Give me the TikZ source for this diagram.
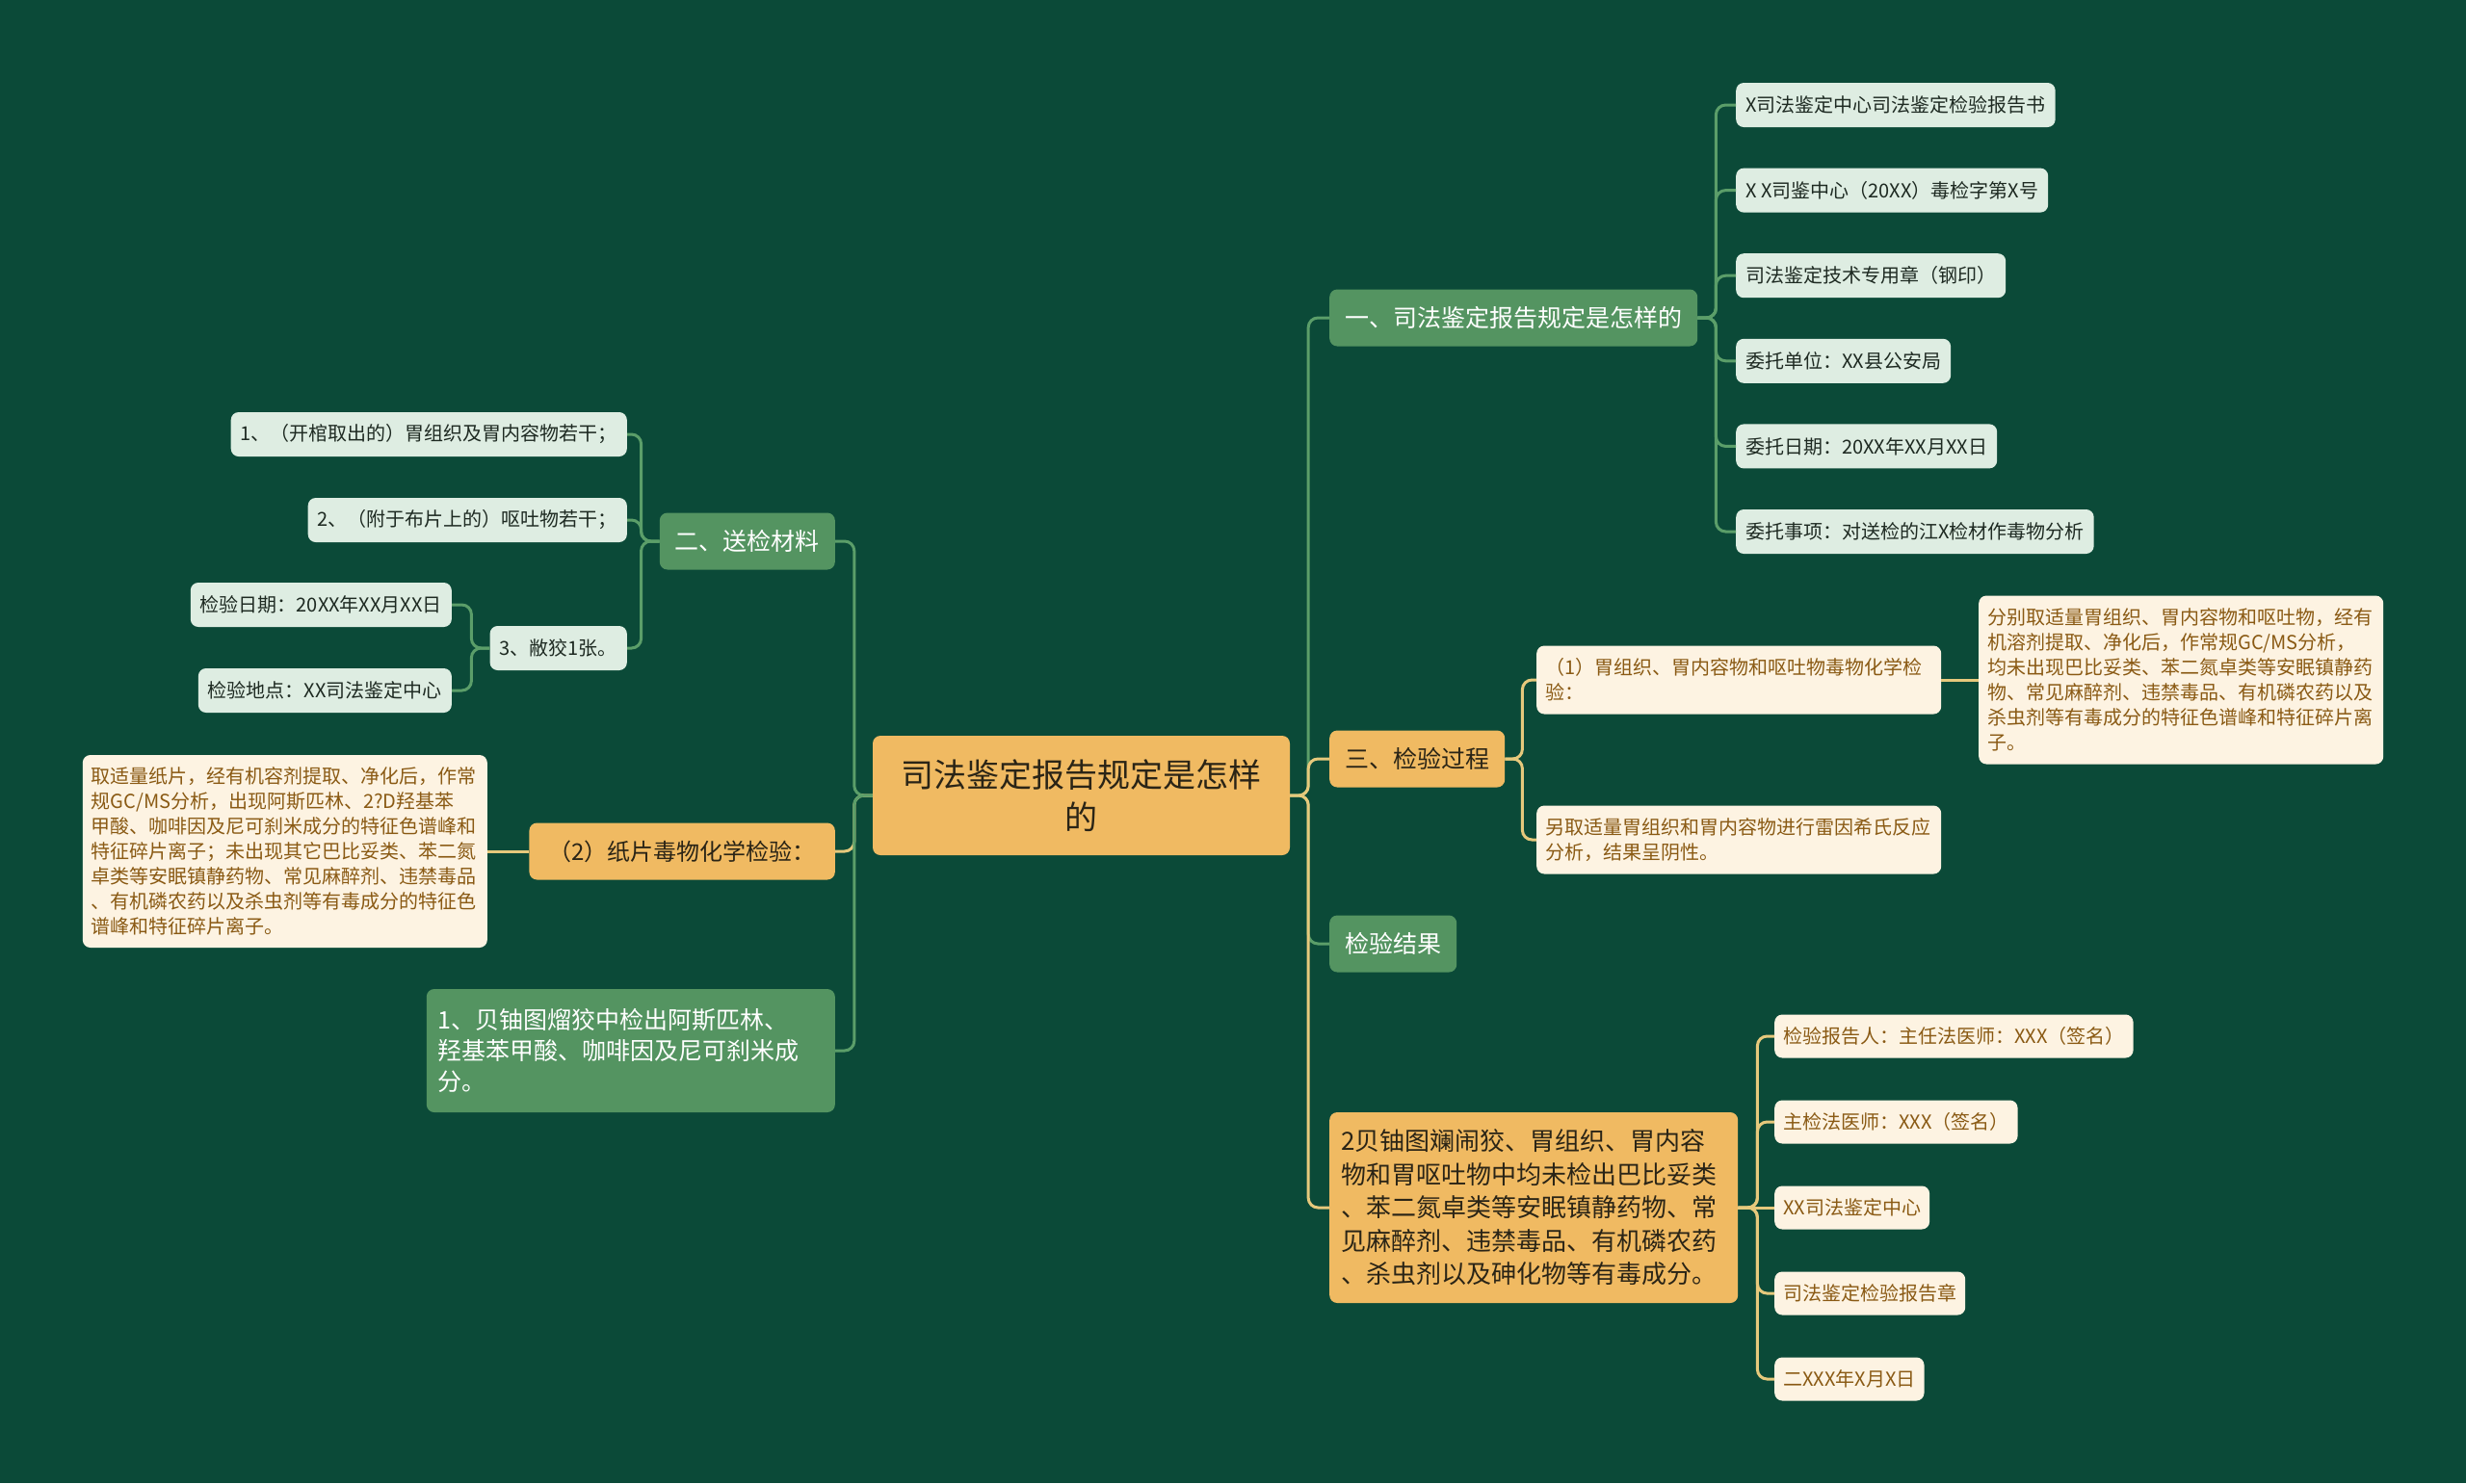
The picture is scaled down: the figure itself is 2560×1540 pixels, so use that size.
\documentclass[tikz,border=0pt]{standalone}
\usepackage{fontspec}
\setmainfont{Noto Sans CJK SC}
\definecolor{bgcol}{HTML}{0B4A38}
\definecolor{gfill}{HTML}{549461}
\definecolor{gline}{HTML}{5B9E69}
\definecolor{ofill}{HTML}{F0BA62}
\definecolor{oline}{HTML}{E6C97C}
\definecolor{lfill}{HTML}{DEEDE2}
\definecolor{ltext}{HTML}{1E2A22}
\definecolor{cfill}{HTML}{FDF3E2}
\definecolor{ctext}{HTML}{8A5A14}
\definecolor{dtext}{HTML}{2A2416}
\begin{document}
\begin{tikzpicture}[x=1pt,y=-1pt,
  box/.style={rounded corners=8pt,inner ysep=4pt},
  rootbox/.style={box,fill=ofill,text=dtext,font=\fontsize{34}{44}\selectfont,align=center,minimum width=433pt,minimum height=124pt},
  topicg/.style={box,fill=gfill,text=white,font=\fontsize{25}{32}\selectfont,inner xsep=16pt,minimum height=59pt},
  topico/.style={box,fill=ofill,text=dtext,font=\fontsize{25}{32}\selectfont,inner xsep=16pt,minimum height=59pt},
  leaf/.style={box,fill=lfill,text=ltext,font=\fontsize{20}{26}\selectfont,inner xsep=10pt,minimum height=46pt},
  cream/.style={box,fill=cfill,text=ctext,font=\fontsize{20}{26}\selectfont,inner xsep=9pt,minimum height=45pt,align=left},
  gconn/.style={draw=gline,line width=3pt,rounded corners=10pt},
  oconn/.style={draw=oline,line width=3pt,rounded corners=10pt}]
\fill[bgcol] (0,0) rectangle (2560,1540);
\useasboundingbox (0,0) rectangle (2560,1540);
% centre
\node[rootbox] (root) at (1122.5,826) {司法鉴定报告规定是怎样\\的};
% right side
\node[topicg,anchor=west] (r1) at (1380,330) {一、司法鉴定报告规定是怎样的};
\node[topico,anchor=west] (r2) at (1380,788) {三、检验过程};
\node[topicg,anchor=west] (r3) at (1380,980) {检验结果};
\node[topico,anchor=west,align=left,text width=400pt,inner xsep=12pt,font=\fontsize{26}{34.5}\selectfont,minimum height=198pt] (r4) at (1380,1254) {2贝铀图斓闹狡、胃组织、胃内容\\物和胃呕吐物中均未检出巴比妥类\\、苯二氮卓类等安眠镇静药物、常\\见麻醉剂、违禁毒品、有机磷农药\\、杀虫剂以及砷化物等有毒成分。};
\node[leaf,anchor=west] (r1a) at (1802,109) {X司法鉴定中心司法鉴定检验报告书};
\node[leaf,anchor=west] (r1b) at (1802,197.6) {X X司鉴中心（20XX）毒检字第X号};
\node[leaf,anchor=west] (r1c) at (1802,286.2) {司法鉴定技术专用章（钢印）};
\node[leaf,anchor=west] (r1d) at (1802,374.8) {委托单位：XX县公安局};
\node[leaf,anchor=west] (r1e) at (1802,463.4) {委托日期：20XX年XX月XX日};
\node[leaf,anchor=west] (r1f) at (1802,552) {委托事项：对送检的江X检材作毒物分析};
\node[cream,anchor=west,text width=402pt,minimum height=71pt] (r2a) at (1595,706) {（1）胃组织、胃内容物和呕吐物毒物化学检\\验：};
\node[cream,anchor=west,text width=402pt,minimum height=175pt] (r2a1) at (2054,706) {分别取适量胃组织、胃内容物和呕吐物，经有\\机溶剂提取、净化后，作常规GC/MS分析，\\均未出现巴比妥类、苯二氮卓类等安眠镇静药\\物、常见麻醉剂、违禁毒品、有机磷农药以及\\杀虫剂等有毒成分的特征色谱峰和特征碎片离\\子。};
\node[cream,anchor=west,text width=402pt,minimum height=71pt] (r2b) at (1595,872) {另取适量胃组织和胃内容物进行雷因希氏反应\\分析，结果呈阴性。};
\node[cream,anchor=west] (r4a) at (1842,1076) {检验报告人：主任法医师：XXX（签名）};
\node[cream,anchor=west] (r4b) at (1842,1165) {主检法医师：XXX（签名）};
\node[cream,anchor=west] (r4c) at (1842,1254) {XX司法鉴定中心};
\node[cream,anchor=west] (r4d) at (1842,1343) {司法鉴定检验报告章};
\node[cream,anchor=west] (r4e) at (1842,1432) {二XXX年X月X日};
% left side
\node[topicg,anchor=east] (l1) at (867,562) {二、送检材料};
\node[topico,anchor=east,inner xsep=20pt,font=\fontsize{24}{30}\selectfont] (l2) at (867,884) {（2）纸片毒物化学检验：};
\node[topicg,anchor=east,align=left,text width=400pt,inner xsep=12pt,minimum height=128pt] (l3) at (867,1091) {1、贝铀图熘狡中检出阿斯匹林、\\羟基苯甲酸、咖啡因及尼可刹米成\\分。};
\node[leaf,anchor=east] (l1a) at (651,451) {1、（开棺取出的）胃组织及胃内容物若干；};
\node[leaf,anchor=east] (l1b) at (651,540) {2、（附于布片上的）呕吐物若干；};
\node[leaf,anchor=east] (l1c) at (651,673) {3、敝狡1张。};
\node[leaf,anchor=east] (l1c1) at (469,628) {检验日期：20XX年XX月XX日};
\node[leaf,anchor=east] (l1c2) at (469,717) {检验地点：XX司法鉴定中心};
\node[cream,anchor=east,text width=402pt,minimum height=200pt] (l2a) at (506,884) {取适量纸片，经有机容剂提取、净化后，作常\\规GC/MS分析，出现阿斯匹林、2?D羟基苯\\甲酸、咖啡因及尼可刹米成分的特征色谱峰和\\特征碎片离子；未出现其它巴比妥类、苯二氮\\卓类等安眠镇静药物、常见麻醉剂、违禁毒品\\、有机磷农药以及杀虫剂等有毒成分的特征色\\谱峰和特征碎片离子。};
% connectors
\draw[gconn] (root.east) -- ++(19,0) |- (r1.west);
\draw[oconn] (root.east) -- ++(19,0) |- (r2.west);
\draw[gconn] (root.east) -- ++(19,0) |- (r3.west);
\draw[oconn] (root.east) -- ++(19,0) |- (r4.west);
\draw[gconn] (root.west) -- ++(-19,0) |- (l1.east);
\draw[oconn] (root.west) -- ++(-19,0) |- (l2.east);
\draw[gconn] (root.west) -- ++(-19,0) |- (l3.east);
\foreach \n in {r1a,r1b,r1c,r1d,r1e,r1f}
  \draw[gconn] (r1.east) -- ++(19,0) |- (\n.west);
\draw[oconn] (r2.east) -- ++(18,0) |- (r2a.west);
\draw[oconn] (r2.east) -- ++(18,0) |- (r2b.west);
\draw[oconn] (r2a.east) -- (r2a1.west);
\foreach \n in {r4a,r4b,r4d,r4e}
  \draw[oconn] (r4.east) -- ++(20,0) |- (\n.west);
\draw[oconn] (r4.east) -- (r4c.west);
\foreach \n in {l1a,l1b,l1c}
  \draw[gconn] (l1.west) -- ++(-19,0) |- (\n.east);
\draw[gconn] (l1c.west) -- ++(-19,0) |- (l1c1.east);
\draw[gconn] (l1c.west) -- ++(-19,0) |- (l1c2.east);
\draw[oconn] (l2.west) -- (l2a.east);
\end{tikzpicture}
\end{document}
